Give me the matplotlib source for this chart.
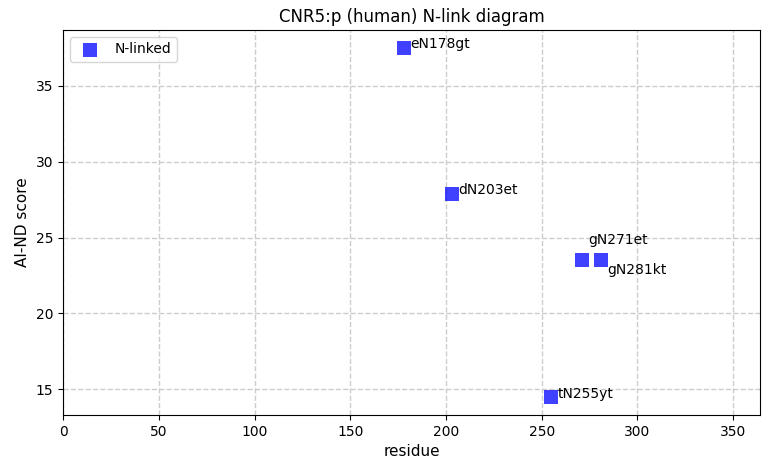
import matplotlib
matplotlib.use("Agg")
import matplotlib.pyplot as plt

# N-linked glycosylation sites
residues = [178, 203, 271, 281, 255]
scores = [37.5, 27.85, 23.5, 23.5, 14.5]
labels = ["eN178gt", "dN203et", "gN271et", "gN281kt", "tN255yt"]
# label offsets (pixels) so the close pair does not overlap
label_dy = [4, 4, 20, -10, 3]

fig, ax = plt.subplots(figsize=(7.7, 4.74), dpi=100)
ax.scatter(residues, scores, marker="s", s=100, color="blue", alpha=0.75,
           linewidths=0, label="N-linked", zorder=3)

for x, y, lab, dy in zip(residues, scores, labels, label_dy):
    ax.annotate(lab, (x, y), xytext=(6, dy), textcoords="offset pixels",
                ha="left", va="center", fontsize=10)

ax.set_xlim(0, 364)
ax.set_ylim(13.31, 38.69)
ax.set_title("CNR5:p (human) N-link diagram")
ax.set_xlabel("residue", fontsize=11)
ax.set_ylabel("AI-ND score", fontsize=11)
ax.grid(True, linestyle="--", color="#cccccc", linewidth=1)
ax.legend(loc="upper left")

fig.subplots_adjust(left=0.082, right=0.987, top=0.937, bottom=0.1245)
fig.savefig("out.png", dpi=100)
